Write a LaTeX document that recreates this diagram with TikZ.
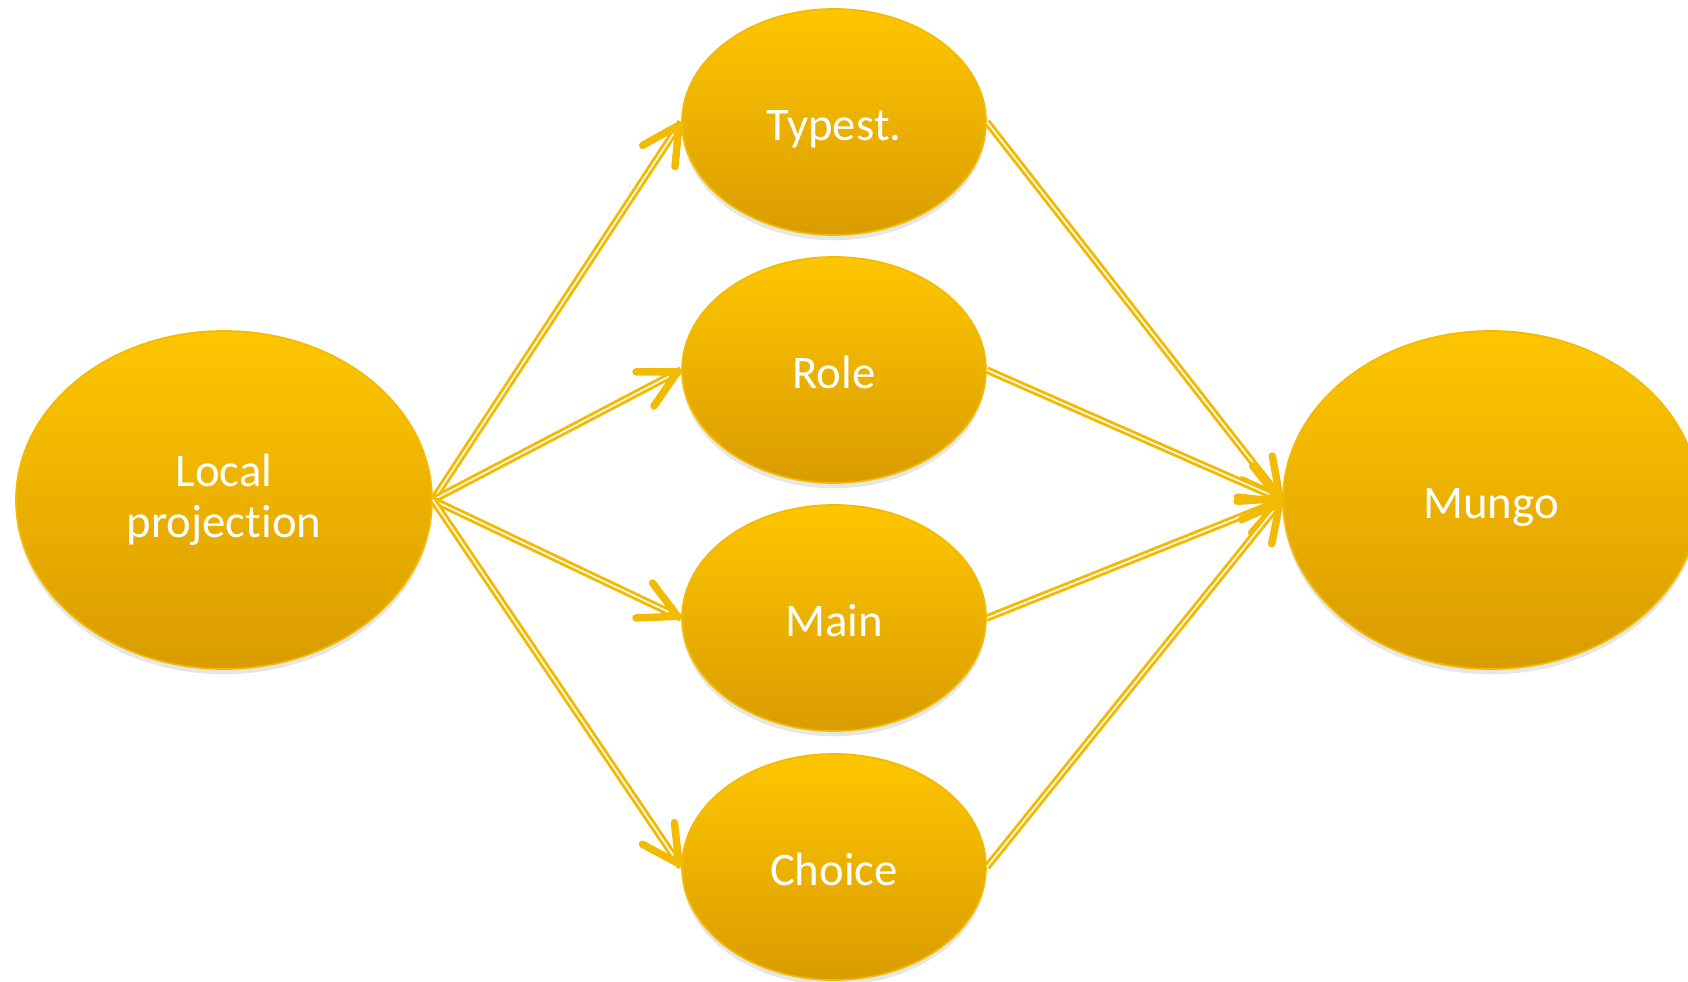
\documentclass[tikz,border=0pt]{standalone}
\usepackage{fontspec}
\setmainfont[Ligatures=NoCommon]{Carlito}
\usetikzlibrary{%
        arrows.meta,
        shapes.geometric,
        shadows,
        decorations.markings,
        positioning,
    }
\definecolor{goldtop}{HTML}{FEC600}
\definecolor{goldbottom}{HTML}{D99C00}
\definecolor{goldline}{HTML}{F2BA00}
\tikzset{%
    blob/.style={%
        ellipse,
        top color=goldtop,
        bottom color=goldbottom,
        draw=goldline,
        line width=0.5pt,
        text=white,
        align=center,
        inner sep=0pt,
        font=\fontsize{13.3}{14.5}\selectfont,
        drop shadow={shadow xshift=0pt, shadow yshift=-1.5pt, opacity=.2},
    },
    one line/.style={%
        text height=10.6pt,
        text depth=0pt,
    },
    small blob/.style={%
        blob,
        one line,
        minimum width=30.4mm,
        minimum height=22.6mm,
    },
    big blob/.style={%
        blob,
        minimum width=41.6mm,
        minimum height=33.8mm,
    },
    link/.style={%
        draw=goldline,
        line width=2.1pt,
        postaction={draw=white, line width=0.45pt, shorten >=4pt},
        postaction={%
            decorate,
            decoration={%
                markings,
                mark=at position 1 with {%
                    \arrow[goldline]{Straight Barb[%
                        length=10.5pt, width=11pt, line width'=2.1pt, round]}
                },
            },
        },
    },
}
\begin{document}
\begin{tikzpicture}

    \useasboundingbox (0, 0) rectangle (168.8mm, 98.1mm);
    \clip (0, 0) rectangle (168.8mm, 98.1mm);

    %%%%%%%%%
    % Nodes %
    %%%%%%%%%
    \node[big blob] (local) at (22.4mm, 48.1mm) {Local\\projection};

    \node[small blob] (typest) at (83.4mm, 85.9mm) {Typest.};
    \node[small blob] (role) at (83.4mm, 61.1mm) {Role};
    \node[small blob] (main) at (83.4mm, 36.3mm) {Main};
    \node[small blob] (choice) at (83.4mm, 11.4mm) {Choice};

    \node[big blob, one line] (mungo) at (149.1mm, 48.1mm) {Mungo};

    %%%%%%%%%%
    % Arrows %
    %%%%%%%%%%
    \foreach \target in {typest, role, main, choice}{%
        \draw[link] (local.east) -- (\target.west);
        \draw[link] (\target.east) -- (mungo.west);
    };

\end{tikzpicture}
\end{document}
